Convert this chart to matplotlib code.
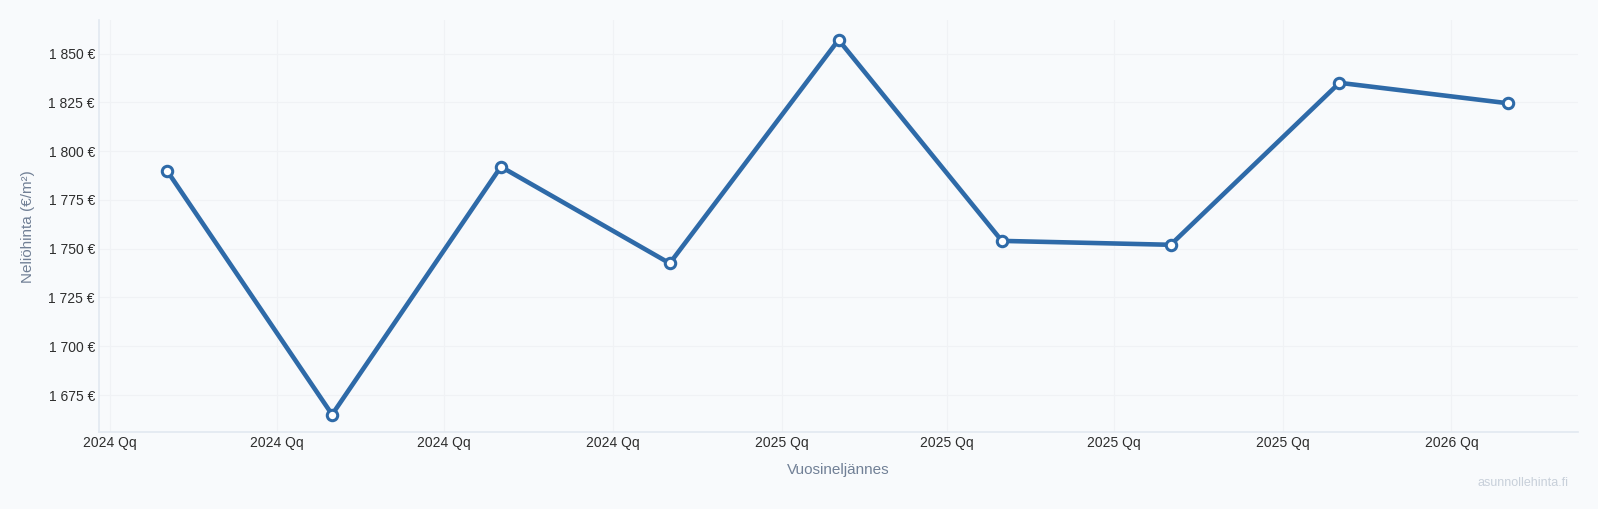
import numpy as np
import pandas as pd
import matplotlib.pyplot as plt
import matplotlib.dates as mdates
from matplotlib.ticker import FuncFormatter

plt.rcParams['font.family'] = ['Liberation Sans', 'DejaVu Sans']

# --- Data ---
dates = pd.to_datetime(['2024-02-01', '2024-05-01', '2024-08-01', '2024-11-01',
                        '2025-02-01', '2025-05-01', '2025-08-01', '2025-11-01',
                        '2026-02-01'])
prices = [1790, 1665, 1792, 1742.5, 1857, 1754, 1752, 1835, 1824.5]
tick_dates = pd.date_range('2024-01-01', '2026-01-01', freq='QS')
tick_labels = ['2024 Qq', '2024 Qq', '2024 Qq', '2024 Qq',
               '2025 Qq', '2025 Qq', '2025 Qq', '2025 Qq', '2026 Qq']
y_ticks = [1675, 1700, 1725, 1750, 1775, 1800, 1825, 1850]

BG = '#f8fafc'
LINE = '#2e6aa8'

fig = plt.figure(figsize=(15.98, 5.09), dpi=100, facecolor=BG)
ax = fig.add_axes([0.062, 0.151, 0.9255, 0.809])
ax.set_facecolor(BG)

ax.plot(dates, prices, color=LINE, linewidth=3.3, marker='o', markersize=7.5,
        markerfacecolor='white', markeredgecolor=LINE, markeredgewidth=2.2, zorder=3)

ax.set_xlim(pd.Timestamp('2023-12-26'), pd.Timestamp('2026-03-11'))
ax.set_ylim(1656, 1867)

ax.set_xticks(tick_dates)
ax.set_xticklabels(tick_labels)
ax.set_yticks(y_ticks)
ax.yaxis.set_major_formatter(FuncFormatter(lambda v, p: f"{int(v):,} €".replace(',', ' ')))

ax.tick_params(axis='y', length=0, labelsize=10, colors='#2d2d2d', pad=3)
ax.tick_params(axis='x', length=0, labelsize=10, colors='#2d2d2d', pad=3)

ax.grid(True, color='#f0f2f5', linewidth=0.8)
ax.set_axisbelow(True)
for s in ['top', 'right']:
    ax.spines[s].set_visible(False)
for s in ['left', 'bottom']:
    ax.spines[s].set_color('#e2e8f0')
    ax.spines[s].set_linewidth(1.2)

ax.set_ylabel('Neliöhinta (€/m²)', color='#718096', fontsize=11, labelpad=10)
ax.set_xlabel('Vuosineljännes', color='#718096', fontsize=11, labelpad=9)

fig.text(0.953, 0.046, 'asunnollehinta.fi', color='#c8d0da', fontsize=9, ha='center')

fig.savefig('out.png', dpi=100, facecolor=BG)
